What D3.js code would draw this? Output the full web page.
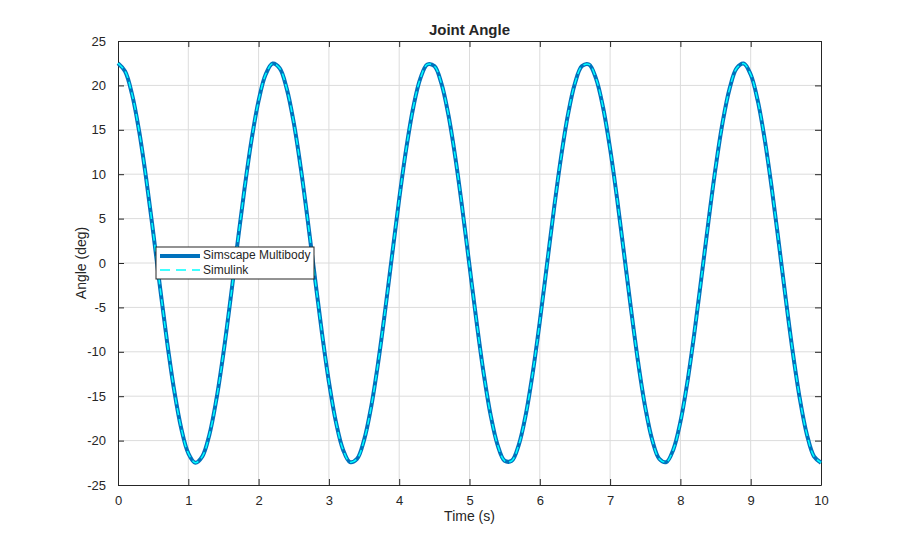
<!DOCTYPE html>
<html>
<head>
<meta charset="utf-8">
<script src="https://cdn.jsdelivr.net/npm/d3@7"></script>
<style>
  body { margin: 0; background: #fff; }
  text { font-family: "Liberation Sans", Arial, sans-serif; fill: #262626; }
  .tick text { font-size: 13px; }
</style>
</head>
<body>
<svg width="908" height="546"></svg>
<script>
const svg = d3.select('svg');
const width = +svg.attr('width');
const height = +svg.attr('height');

// time samples (s), every 0.1 s
const time = d3.range(0, 101).map(i => +(i / 10).toFixed(1));

// joint angle (deg)
const angle = [
  22.5, 21.60, 18.99, 14.87, 9.56, 3.49, -2.86, -8.98, -14.38, -18.64,
  -21.42, -22.49, -21.77, -19.33, -15.34, -10.13, -4.12, 2.23, 8.39, 13.88,
  18.28, 21.22, 22.46, 21.93, 19.64, 15.80, 10.69, 4.74, -1.59, -7.80,
  -13.38, -17.90, -20.99, -22.42, -22.06, -19.95, -16.25, -11.25, -5.36, 0.95,
  7.20, 12.86, 17.51, 20.76, 22.36, 22.18, 20.23, 16.68, 11.80, 5.98,
  -0.32, -6.59, -12.34, -17.11, -20.50, -22.27, -22.27, -20.50, -17.10, -12.34,
  -6.59, -0.32, 5.98, 11.80, 16.68, 20.23, 22.18, 22.36, 20.76, 17.51,
  12.86, 7.20, 0.95, -5.36, -11.25, -16.25, -19.95, -22.06, -22.42, -20.99,
  -17.90, -13.38, -7.80, -1.59, 4.74, 10.69, 15.80, 19.64, 21.93, 22.46,
  21.22, 18.28, 13.88, 8.39, 2.23, -4.12, -10.13, -15.34, -19.33, -21.77,
  -22.49
];

const xTicks = [0, 1, 2, 3, 4, 5, 6, 7, 8, 9, 10];
const yTicks = [-25, -20, -15, -10, -5, 0, 5, 10, 15, 20, 25];
const seriesNames = ['Simscape Multibody', 'Simulink'];

const data = time.map((t, i) => ({ t: t, a: angle[i] }));

const margin = { top: 41, right: 87, bottom: 61, left: 118 };
const innerW = width - margin.left - margin.right;
const innerH = height - margin.top - margin.bottom;

const x = d3.scaleLinear().domain([0, 10]).range([0, innerW]);
const y = d3.scaleLinear().domain([-25, 25]).range([innerH, 0]);

const g = svg.append('g')
  .attr('transform', `translate(${margin.left},${margin.top})`);

// grid
g.append('g')
  .selectAll('line').data(xTicks.slice(1, -1))
  .enter().append('line')
    .attr('x1', d => x(d)).attr('x2', d => x(d))
    .attr('y1', 0).attr('y2', innerH)
    .attr('stroke', '#dcdcdc');
g.append('g')
  .selectAll('line').data(yTicks.slice(1, -1))
  .enter().append('line')
    .attr('y1', d => y(d)).attr('y2', d => y(d))
    .attr('x1', 0).attr('x2', innerW)
    .attr('stroke', '#dcdcdc');

// axes, ticks pointing inward like matlab
const styleAxis = sel => {
  sel.select('.domain').attr('stroke', '#262626');
  sel.selectAll('.tick line').attr('stroke', '#262626');
};
const plain = d => String(d); // hyphen minus, not unicode minus

g.append('g')
  .attr('transform', `translate(0,${innerH})`)
  .call(d3.axisBottom(x).tickValues(xTicks).tickFormat(plain).tickSize(-6).tickPadding(11).tickSizeOuter(0))
  .call(styleAxis);
g.append('g')
  .call(d3.axisTop(x).tickValues(xTicks).tickSize(-6).tickFormat('').tickSizeOuter(0))
  .call(styleAxis);
g.append('g')
  .call(d3.axisLeft(y).tickValues(yTicks).tickFormat(plain).tickSize(-6).tickPadding(12).tickSizeOuter(0))
  .call(styleAxis);
g.append('g')
  .attr('transform', `translate(${innerW},0)`)
  .call(d3.axisRight(y).tickValues(yTicks).tickSize(-6).tickFormat('').tickSizeOuter(0))
  .call(styleAxis);

svg.selectAll('.tick text').attr('fill', '#262626').style('font-family', '"Liberation Sans", Arial, sans-serif');

// lines
const line = d3.line()
  .x(d => x(d.t))
  .y(d => y(d.a))
  .curve(d3.curveCatmullRom);

g.append('path')
  .datum(data)
  .attr('fill', 'none')
  .attr('stroke', '#0072bd')
  .attr('stroke-width', 4)
  .attr('d', line);

g.append('path')
  .datum(data)
  .attr('fill', 'none')
  .attr('stroke', '#00ffff')
  .attr('stroke-width', 1.5)
  .attr('stroke-dasharray', '7,4')
  .attr('d', line);

// labels
svg.append('text')
  .attr('x', margin.left + innerW / 2)
  .attr('y', 35)
  .attr('text-anchor', 'middle')
  .style('font-size', '15px')
  .style('font-weight', 'bold')
  .text('Joint Angle');

svg.append('text')
  .attr('x', margin.left + innerW / 2)
  .attr('y', 521)
  .attr('text-anchor', 'middle')
  .style('font-size', '14px')
  .text('Time (s)');

svg.append('text')
  .attr('transform', `translate(86,${margin.top + innerH / 2}) rotate(-90)`)
  .attr('text-anchor', 'middle')
  .style('font-size', '14px')
  .text('Angle (deg)');

// legend
const legend = svg.append('g').attr('transform', 'translate(156,247)');
legend.append('rect')
  .attr('width', 158).attr('height', 32)
  .attr('fill', '#fff').attr('stroke', '#262626').attr('stroke-width', 1);

legend.append('line')
  .attr('x1', 4).attr('x2', 44).attr('y1', 9).attr('y2', 9)
  .attr('stroke', '#0072bd').attr('stroke-width', 4);
legend.append('line')
  .attr('x1', 4).attr('x2', 44).attr('y1', 23).attr('y2', 23)
  .attr('stroke', '#00ffff').attr('stroke-width', 1.5)
  .attr('stroke-dasharray', '10,6');

legend.selectAll('text.lbl').data(seriesNames)
  .enter().append('text')
    .attr('class', 'lbl')
    .attr('x', 47)
    .attr('y', (d, i) => 12 + i * 15)
    .style('font-size', '12px')
    .text(d => d);
</script>
</body>
</html>
